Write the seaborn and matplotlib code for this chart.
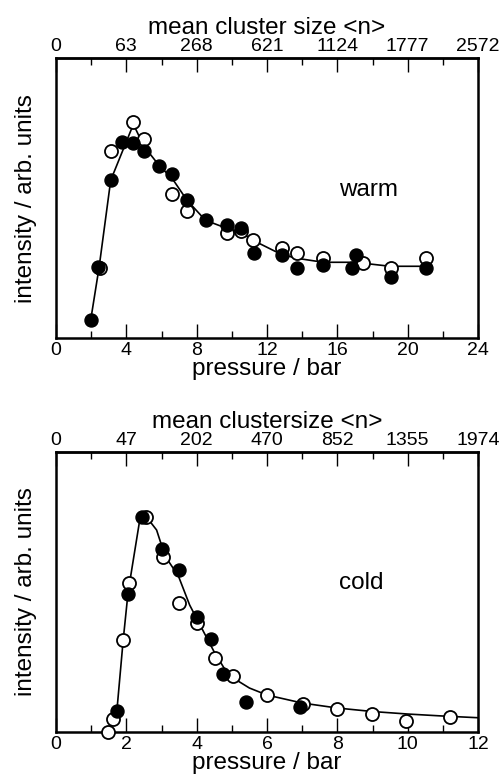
import seaborn as sns
import matplotlib.pyplot as plt
import numpy as np
import pandas as pd
from matplotlib.ticker import MultipleLocator, FixedLocator, FixedFormatter

# warm clusters: pressure / bar and intensity (arb. units)
warm_filled_p = [1.97, 2.41, 3.11, 3.74, 4.36, 4.99, 5.88, 6.6, 7.43, 8.53, 9.71, 10.5,
                 11.28, 12.84, 13.73, 15.2, 16.82, 17.05, 19.04, 21.03]
warm_filled_i = [18, 71, 158, 196, 195, 187, 172, 164, 138, 118, 113, 110,
                 85, 83, 70, 73, 70, 83, 61, 70]
warm_open_p = [2.5, 3.11, 4.36, 5.0, 6.58, 7.47, 9.71, 10.5, 11.22, 12.84, 13.73,
               15.2, 17.48, 19.04, 21.03]
warm_open_i = [70, 187, 216, 199, 144, 127, 105, 107, 98, 90, 85, 80, 75, 70, 80]
warm_fit_p = [1.97, 2.45, 3.11, 4.4, 5.0, 5.9, 6.6, 7.45, 8.5, 9.7, 10.5, 11.2,
              12.8, 13.7, 15.2, 17.0, 17.5, 19.0, 21.0]
warm_fit_i = [18, 71, 158, 214, 192, 172, 160, 138, 118, 110, 106, 98,
              84, 80, 76, 76, 75, 72, 72]
warm_top_labels = ['0', '63', '268', '621', '1124', '1777', '2572']

# cold clusters
cold_filled_p = [1.73, 2.04, 2.44, 3.02, 3.51, 4.0, 4.4, 4.76, 5.4, 6.94]
cold_filled_i = [21, 138, 215, 183, 162, 115, 93, 58, 30, 25]
cold_open_p = [1.49, 1.63, 1.91, 2.08, 2.56, 3.05, 3.51, 4.02, 4.52, 5.02, 5.99,
               7.03, 8.0, 8.99, 9.95, 11.2]
cold_open_i = [0, 13, 92, 149, 215, 175, 129, 109, 74, 56, 37, 28, 23, 18, 11, 15]
cold_fit_p = [1.73, 1.91, 2.05, 2.39, 2.53, 2.86, 3.1, 3.48, 3.8, 4.2, 4.5, 4.9,
              5.5, 6.0, 7.0, 8.0, 9.0, 10.0, 11.0, 12.0]
cold_fit_i = [21, 92, 140, 214, 217, 202, 176, 156, 127, 100, 80, 57,
              44, 37, 29, 24, 20.5, 18, 16, 14.3]
cold_top_labels = ['0', '47', '202', '470', '852', '1355', '1974']

sns.set_style("ticks")
plt.rcParams['font.family'] = ['Liberation Sans', 'DejaVu Sans']
plt.rcParams['text.color'] = 'black'
plt.rcParams['axes.labelcolor'] = 'black'

fig = plt.figure(figsize=(5.02, 7.8), dpi=100)
ax1 = fig.add_axes([0.1116, 0.5663, 0.8406, 0.359])
ax2 = fig.add_axes([0.1116, 0.0615, 0.8406, 0.359])


def draw_panel(ax, fp, fi, op, oi, lp, li, xmax, major, top_labels, top_title, tag, tag_xy):
    sns.lineplot(x=lp, y=li, ax=ax, color='black', linewidth=1.2, zorder=2)
    sns.scatterplot(x=op, y=oi, ax=ax, marker='o', s=88, facecolor='white',
                    edgecolor='black', linewidth=1.3, zorder=3, clip_on=False)
    sns.scatterplot(x=fp, y=fi, ax=ax, marker='o', s=88, color='black',
                    edgecolor='black', linewidth=1.0, zorder=4, clip_on=False)
    ax.set_xlim(0, xmax)
    ax.set_ylim(0, 280)
    ax.set_yticks([])
    ax.xaxis.set_major_locator(MultipleLocator(major))
    ax.xaxis.set_minor_locator(MultipleLocator(major / 2))
    ax.tick_params(axis='x', which='both', direction='in', top=True, bottom=True,
                   labelsize=14, width=1, colors='black', pad=3)
    ax.tick_params(axis='x', which='major', length=10)
    ax.tick_params(axis='x', which='minor', length=5)
    for sp in ax.spines.values():
        sp.set_visible(True)
        sp.set_linewidth(1.8)
        sp.set_color('black')
    ax.set_xlabel('pressure / bar', fontsize=17.5, labelpad=-1, color='black')
    ax.set_ylabel('intensity / arb. units', fontsize=17.5, labelpad=14, color='black')

    top = ax.secondary_xaxis('top')
    top.xaxis.set_major_locator(FixedLocator(np.arange(0, xmax + 0.01, major)))
    top.xaxis.set_major_formatter(FixedFormatter(top_labels))
    top.tick_params(axis='x', which='major', direction='in', length=0, labelsize=14,
                    pad=2, colors='black')
    top.set_xlabel(top_title, fontsize=17.5, labelpad=3, color='black')
    top.spines['top'].set_linewidth(1.8)

    ax.text(tag_xy[0], tag_xy[1], tag, fontsize=17.5, ha='center', va='center', color='black')


draw_panel(ax1, warm_filled_p, warm_filled_i, warm_open_p, warm_open_i,
           warm_fit_p, warm_fit_i, 24, 4, warm_top_labels, 'mean cluster size <n>',
           'warm', (17.75, 148))
draw_panel(ax2, cold_filled_p, cold_filled_i, cold_open_p, cold_open_i,
           cold_fit_p, cold_fit_i, 12, 2, cold_top_labels, 'mean clustersize <n>',
           'cold', (8.67, 149))

fig.savefig('out.png', dpi=100)
